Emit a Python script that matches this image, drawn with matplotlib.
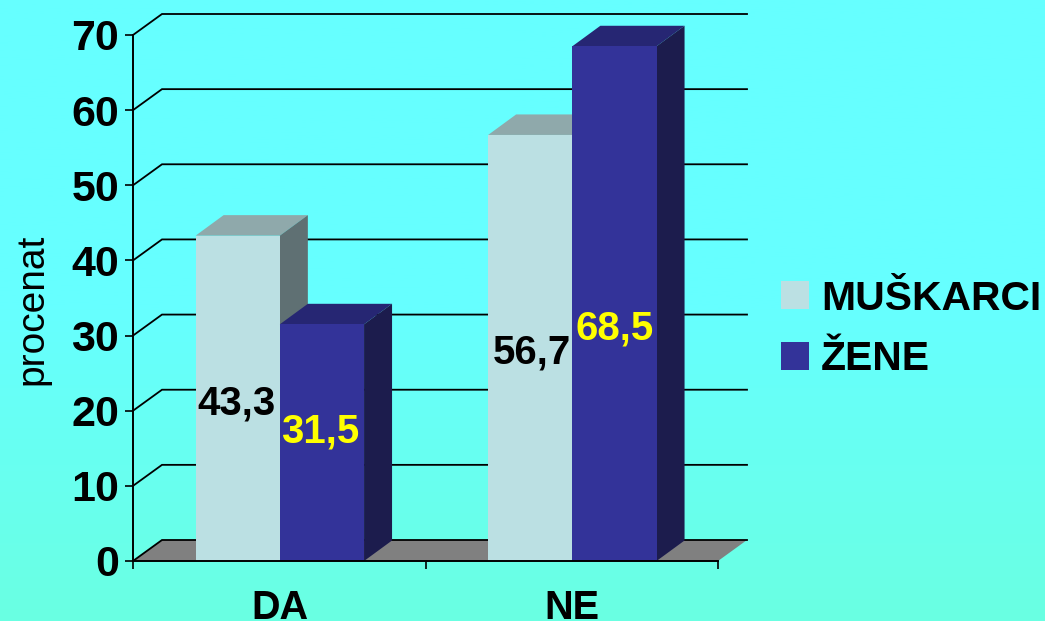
import matplotlib
matplotlib.use('Agg')
import matplotlib.pyplot as plt
import numpy as np
from matplotlib.colors import LinearSegmentedColormap
from matplotlib.patches import Patch, Polygon

categories = ['DA', 'NE']
series_names = ['MUŠKARCI', 'ŽENE']
muskarci = [43.3, 56.7]
zene = [31.5, 68.5]
yticks = [0, 10, 20, 30, 40, 50, 60, 70]

plt.rcParams['font.family'] = ['Liberation Sans', 'DejaVu Sans']

W, H = 1045, 621
fig = plt.figure(figsize=(W / 100, H / 100), dpi=100)

# pozadina
bg = fig.add_axes([0, 0, 1, 1], zorder=0)
cmap = LinearSegmentedColormap.from_list('bg', ['#66FFFF', '#66FFFF', '#6AFFE2'])
bg.imshow(np.linspace(0, 1, 256).reshape(-1, 1), aspect='auto', cmap=cmap)
bg.axis('off')

ax = fig.add_axes([133 / W, (H - 561) / H, 585 / W, 526 / H], zorder=1)
ax.patch.set_alpha(0)
ax.set_xlim(-0.5, 1.5)
ax.set_ylim(0, 70)

# dubina 3D u jedinicama osa
wall_dx = 29 / 292.5
wall_dy = 21 / 7.514
bar_dx = 28 / 292.5
bar_dy = 20.5 / 7.514
bar_w = 84.2 / 292.5
x0, x1 = ax.get_xlim()

# pod
ax.add_patch(Polygon([(x0, 0), (x0 + wall_dx, wall_dy), (x1 + wall_dx, wall_dy), (x1, 0)],
                     closed=True, facecolor='#808080', edgecolor='none', clip_on=False, zorder=1))

# mreza
for v in yticks:
    ax.plot([x0, x0 + wall_dx, x1 + wall_dx], [v, v + wall_dy, v + wall_dy],
            color='black', lw=1.3, clip_on=False, zorder=2, solid_joinstyle='miter')


def bar3d(x, v, front, top, side, z):
    ax.bar(x, v, bar_w, color=front, zorder=z + 0.2, linewidth=0)
    l, r = x - bar_w / 2, x + bar_w / 2
    ax.add_patch(Polygon([(l, v), (l + bar_dx, v + bar_dy), (r + bar_dx, v + bar_dy), (r, v)],
                         closed=True, facecolor=top, edgecolor='none', clip_on=False, zorder=z))
    ax.add_patch(Polygon([(r, 0), (r + bar_dx, bar_dy), (r + bar_dx, v + bar_dy), (r, v)],
                         closed=True, facecolor=side, edgecolor='none', clip_on=False, zorder=z))


x = np.arange(len(categories)) + 0.6 / 292.5
for i in range(len(categories)):
    bar3d(x[i] - bar_w / 2, muskarci[i], '#BBE0E3', '#8FA9AB', '#5F7073', 3)
    bar3d(x[i] + bar_w / 2, zene[i], '#333399', '#262673', '#1C1C4D', 4)

# oznake vrijednosti
label_y_m = [21.0, 27.8]
label_y_z = [17.2, 31.0]
label_shift_m = [-1.5 / 292.5, 1.5 / 292.5]
label_shift_z = [-1.5 / 292.5, 0]
for i in range(len(categories)):
    ax.text(x[i] - bar_w / 2 + label_shift_m[i], label_y_m[i], f'{muskarci[i]:.1f}'.replace('.', ','),
            ha='center', va='center', fontsize=29, fontweight='bold', color='black', zorder=6)
    ax.text(x[i] + bar_w / 2 + label_shift_z[i], label_y_z[i], f'{zene[i]:.1f}'.replace('.', ','),
            ha='center', va='center', fontsize=29, fontweight='bold', color='#FFFF00', zorder=6)

# ose
for s in ['top', 'right']:
    ax.spines[s].set_visible(False)
for s in ['left', 'bottom']:
    ax.spines[s].set_linewidth(1.4)
    ax.spines[s].set_zorder(5)
ax.set_yticks(yticks)
ax.tick_params(axis='y', length=6, width=1.2, pad=4, labelsize=31)
for t in ax.get_yticklabels():
    t.set_fontweight('bold')
ax.set_xticks([-0.5, 0.5, 1.5])
ax.set_xticklabels([])
ax.tick_params(axis='x', which='major', length=6, width=1.2)
ax.set_xticks(x, minor=True)
ax.set_xticklabels(categories, minor=True, fontsize=28.5, fontweight='bold')
ax.tick_params(axis='x', which='minor', length=0, pad=20.5)
ax.set_ylabel('procenat', fontsize=28)
ax.yaxis.set_label_coords(-0.141, 0.478)

handles = [Patch(facecolor='#BBE0E3', edgecolor='none'), Patch(facecolor='#333399', edgecolor='none')]
fig.legend(handles, series_names, loc='center left', bbox_to_anchor=(781 / W, 1 - 329 / H),
           frameon=False, prop={'size': 29.4, 'weight': 'bold'},
           handlelength=0.68, handleheight=0.68, handletextpad=0.3, labelspacing=0.56, borderpad=0, borderaxespad=0)

fig.savefig('out.png', dpi=100)
